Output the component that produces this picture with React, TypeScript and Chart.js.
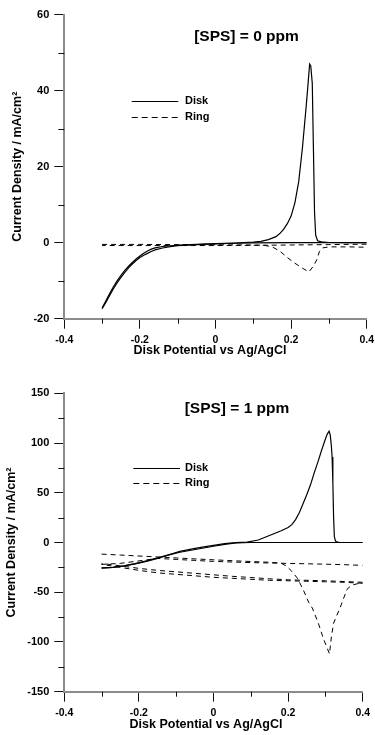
import React, { useEffect, useRef } from "react";
import { Chart, registerables } from "chart.js";

Chart.register(...registerables);

// ================= DATA : [SPS] = 0 ppm =================
const disk0FwdPotential = [-0.3, -0.29, -0.28, -0.27, -0.26, -0.25, -0.24, -0.23, -0.22, -0.21, -0.2, -0.19, -0.18, -0.17, -0.16, -0.14, -0.12, -0.1, -0.05, 0, 0.05, 0.1, 0.12, 0.14, 0.16, 0.17, 0.18, 0.19, 0.2, 0.21, 0.22, 0.23, 0.24, 0.245, 0.249, 0.252, 0.256, 0.259, 0.262, 0.265, 0.27, 0.28, 0.3, 0.35, 0.4];
const disk0FwdCurrent = [-17.2, -15.3, -13.4, -11.6, -10.0, -8.6, -7.3, -6.2, -5.2, -4.3, -3.5, -2.8, -2.2, -1.7, -1.35, -1.0, -0.8, -0.65, -0.45, -0.25, -0.1, 0.15, 0.35, 0.8, 1.6, 2.4, 3.5, 5.0, 7.0, 10.5, 16, 25, 36, 42, 47, 46.5, 42, 25, 8, 2, 0.5, 0.2, 0.05, 0, 0];
const disk0RevPotential = [0.4, 0.3, 0.2, 0.1, 0.05, 0, -0.05, -0.1, -0.12, -0.14, -0.16, -0.17, -0.18, -0.19, -0.2, -0.21, -0.22, -0.23, -0.24, -0.25, -0.26, -0.27, -0.28, -0.29, -0.3];
const disk0RevCurrent = [0, 0, 0, -0.05, -0.15, -0.3, -0.5, -0.8, -1.05, -1.4, -1.9, -2.3, -2.8, -3.3, -3.9, -4.7, -5.6, -6.6, -7.8, -9.1, -10.5, -12.1, -13.9, -15.7, -17.4];
const ring0FwdPotential = [-0.3, -0.2, -0.1, 0, 0.1, 0.13, 0.15, 0.17, 0.19, 0.21, 0.23, 0.247, 0.258, 0.268, 0.275, 0.282, 0.3, 0.35, 0.4];
const ring0FwdCurrent = [-0.45, -0.45, -0.5, -0.55, -0.6, -0.7, -1.1, -2.2, -3.9, -5.4, -6.7, -7.7, -6.3, -4.5, -2.3, -1.4, -1.1, -1.1, -1.2];
const ring0RevPotential = [0.4, 0.3, 0.2, 0.1, 0, -0.1, -0.2, -0.3];
const ring0RevCurrent = [-0.4, -0.5, -0.6, -0.7, -0.75, -0.75, -0.75, -0.75];

// ================= DATA : [SPS] = 1 ppm =================
const disk1FwdPotential = [-0.3, -0.27, -0.24, -0.21, -0.18, -0.15, -0.12, -0.09, -0.06, -0.03, 0, 0.03, 0.06, 0.09, 0.12, 0.14, 0.16, 0.18, 0.2, 0.21, 0.22, 0.23, 0.24, 0.25, 0.26, 0.27, 0.28, 0.29, 0.3, 0.305, 0.31, 0.313, 0.316, 0.318, 0.32, 0.322, 0.324, 0.327, 0.332, 0.34, 0.4];
const disk1FwdCurrent = [-25.8, -25, -23.5, -21.5, -19, -16, -12.5, -9, -6.6, -4.6, -2.8, -1.2, -0.2, 0.3, 2.5, 5.5, 8.5, 11.5, 15, 18, 23, 30, 39, 48, 58, 70, 81, 93, 104, 109, 112, 108, 97, 86, 60, 25, 6, 1.5, 0.3, 0, 0];
const disk1RevPotential = [0.4, 0.3, 0.2, 0.1, 0.06, 0.03, 0, -0.03, -0.06, -0.09, -0.12, -0.15, -0.18, -0.21, -0.24, -0.27, -0.3];
const disk1RevCurrent = [0, 0, 0, 0, -0.3, -1.8, -3.8, -5.8, -7.8, -9.8, -12.5, -15.5, -18.5, -21.2, -23.5, -25, -25.6];
const ring1AFwdPotential = [-0.3, -0.25, -0.2, -0.15, -0.1, -0.05, 0, 0.05, 0.1, 0.15, 0.18, 0.195, 0.21, 0.225, 0.24, 0.255, 0.265, 0.28, 0.295, 0.311, 0.316, 0.322, 0.34, 0.358, 0.37, 0.385, 0.4];
const ring1AFwdCurrent = [-11.7, -12.6, -13.6, -14.5, -15.5, -16.5, -17.4, -18.3, -19.1, -19.9, -20.6, -23.5, -29, -36, -47, -60, -66, -80, -97, -112, -95, -81, -65, -47, -43, -41.5, -41];
const ring1ARevPotential = [0.4, 0.35, 0.3, 0.25, 0.2, 0.15, 0.1, 0.05, 0, -0.05, -0.1, -0.15, -0.2, -0.25, -0.3];
const ring1ARevCurrent = [-41, -40, -39.5, -39, -38.5, -38, -37, -36, -35, -33.5, -32, -30.5, -28, -25, -22];
const ring1BFwdPotential = [-0.3, -0.25, -0.2, -0.15, -0.1, -0.05, 0, 0.05, 0.1, 0.15, 0.2, 0.25, 0.3, 0.35, 0.4];
const ring1BFwdCurrent = [-22, -21, -18.5, -16, -17, -18, -19, -19.6, -20.2, -20.6, -21, -21.4, -21.8, -22.3, -23];
const ring1BRevPotential = [0.4, 0.3, 0.2, 0.15, 0.1, 0.05, 0, -0.05, -0.1, -0.15, -0.2, -0.25, -0.3];
const ring1BRevCurrent = [-40, -38.5, -37.5, -36.5, -35.2, -34, -32.5, -31, -29.5, -28, -26, -23.5, -21];

// ================= TEXT =================
const xAxisTitle = "Disk Potential vs Ag/AgCl";
const yAxisTitle = "Current Density / mA/cm\u00B2";
const legendLabels = ["Disk", "Ring"];
const panelTitles = ["[SPS] = 0 ppm", "[SPS] = 1 ppm"];

const FONT = "'Liberation Sans', Arial, Helvetica, sans-serif";
const CANVAS_W = 400;

function pts(xs: number[], ys: number[]) {
  return xs.map((x, i) => ({ x, y: ys[i] }));
}

function isMajor(v: number, step: number) {
  const r = v / step;
  return Math.abs(r - Math.round(r)) < 1e-6;
}

function fmtX(v: number) {
  if (Math.abs(v) < 1e-9) return "0";
  return v.toFixed(1);
}

const decorPlugin = {
  id: "decor",
  afterDraw(chart: any, _args: any, opts: any) {
    const ctx = chart.ctx;
    const { left, bottom } = chart.chartArea;
    const xs = chart.scales.x;
    const ys = chart.scales.y;
    ctx.save();
    // minor ticks
    ctx.strokeStyle = "#111";
    ctx.lineWidth = 1;
    xs.ticks.forEach((t: any) => {
      if (!isMajor(t.value, opts.xMajor)) {
        const px = Math.round(xs.getPixelForValue(t.value)) + 0.5;
        ctx.beginPath();
        ctx.moveTo(px, bottom);
        ctx.lineTo(px, bottom + 5);
        ctx.stroke();
      }
    });
    ys.ticks.forEach((t: any) => {
      if (!isMajor(t.value, opts.yMajor)) {
        const py = Math.round(ys.getPixelForValue(t.value)) + 0.5;
        ctx.beginPath();
        ctx.moveTo(left, py);
        ctx.lineTo(left - 6, py);
        ctx.stroke();
      }
    });
    ctx.fillStyle = "#000";
    ctx.textAlign = "center";
    ctx.textBaseline = "middle";
    // x axis title
    ctx.font = `bold 12.5px ${FONT}`;
    ctx.fillText(xAxisTitle, opts.xTitleX, opts.xTitleY);
    // panel title
    ctx.font = `bold 15.5px ${FONT}`;
    ctx.fillText(opts.title, opts.titleX, opts.titleY);
    // legend
    ctx.font = `bold 11px ${FONT}`;
    ctx.textAlign = "left";
    const items = [
      { label: legendLabels[0], dash: [] as number[], y: opts.legY },
      { label: legendLabels[1], dash: [6, 4], y: opts.legY + opts.legGap },
    ];
    items.forEach((it) => {
      ctx.setLineDash(it.dash);
      ctx.lineWidth = 1;
      ctx.strokeStyle = "#000";
      ctx.beginPath();
      ctx.moveTo(opts.legX1, Math.round(it.y) + 0.5);
      ctx.lineTo(opts.legX2, Math.round(it.y) + 0.5);
      ctx.stroke();
      ctx.setLineDash([]);
      ctx.fillText(it.label, opts.legTextX, it.y);
    });
    ctx.restore();
  },
};

type Panel = {
  title: string;
  disk: { x: number; y: number }[][];
  ring: { x: number; y: number }[][];
  yMin: number;
  yMax: number;
  yStep: number;
  yMajor: number;
  pad: { left: number; right: number; top: number; bottom: number };
  yWidth: number;
  xHeight: number;
  yTitlePad: number;
  xTitleX: number;
  xTitleY: number;
  titleX: number;
  titleY: number;
  legX1: number;
  legX2: number;
  legTextX: number;
  legY: number;
  legGap: number;
};

const panels: Panel[] = [
  {
    title: panelTitles[0],
    disk: [pts(disk0FwdPotential, disk0FwdCurrent), pts(disk0RevPotential, disk0RevCurrent)],
    ring: [pts(ring0FwdPotential, ring0FwdCurrent), pts(ring0RevPotential, ring0RevCurrent)],
    yMin: -20,
    yMax: 60,
    yStep: 10,
    yMajor: 20,
    pad: { left: 0, right: CANVAS_W - 366.7, top: 14.7, bottom: 0 },
    yWidth: 64.3,
    xHeight: 51.3,
    yTitlePad: 9.7,
    xTitleX: 210,
    xTitleY: 351,
    titleX: 246.5,
    titleY: 36.7,
    legX1: 131.7,
    legX2: 178.3,
    legTextX: 185,
    legY: 100.7,
    legGap: 16,
  },
  {
    title: panelTitles[1],
    disk: [pts(disk1FwdPotential, disk1FwdCurrent), pts(disk1RevPotential, disk1RevCurrent)],
    ring: [
      pts(ring1AFwdPotential, ring1AFwdCurrent),
      pts(ring1ARevPotential, ring1ARevCurrent),
      pts(ring1BFwdPotential, ring1BFwdCurrent),
      pts(ring1BRevPotential, ring1BRevCurrent),
    ],
    yMin: -150,
    yMax: 150,
    yStep: 25,
    yMajor: 50,
    pad: { left: 0, right: CANVAS_W - 362.7, top: 23.3, bottom: 0 },
    yWidth: 64.3,
    xHeight: 43.3,
    yTitlePad: 4.2,
    xTitleX: 206,
    xTitleY: 354.5,
    titleX: 237,
    titleY: 38.3,
    legX1: 133.3,
    legX2: 180,
    legTextX: 185,
    legY: 98.3,
    legGap: 15,
  },
];

function makeConfig(p: Panel): any {
  const datasets: any[] = [];
  p.ring.forEach((d, i) => {
    datasets.push({
      label: legendLabels[1] + " " + (i + 1),
      data: d,
      borderColor: "#000",
      borderWidth: 1,
      borderDash: [5, 4],
      pointRadius: 0,
      fill: false,
      tension: 0,
    });
  });
  p.disk.forEach((d, i) => {
    datasets.push({
      label: legendLabels[0] + " " + (i + 1),
      data: d,
      borderColor: "#000",
      borderWidth: 1.2,
      pointRadius: 0,
      fill: false,
      tension: 0,
    });
  });
  const tickFont = { family: FONT, size: 11, weight: "bold" as const };
  const titleFont = { family: FONT, size: 12.5, weight: "bold" as const };
  return {
    type: "line",
    data: { datasets },
    plugins: [decorPlugin],
    options: {
      animation: false,
      responsive: false,
      devicePixelRatio: 1,
      layout: { padding: p.pad },
      plugins: {
        legend: { display: false },
        title: { display: false },
        tooltip: { enabled: false },
        decor: {
          title: p.title,
          titleX: p.titleX,
          titleY: p.titleY,
          xTitleX: p.xTitleX,
          xTitleY: p.xTitleY,
          legX1: p.legX1,
          legX2: p.legX2,
          legTextX: p.legTextX,
          legY: p.legY,
          legGap: p.legGap,
          xMajor: 0.2,
          yMajor: p.yMajor,
        },
      },
      scales: {
        x: {
          type: "linear",
          min: -0.4,
          max: 0.4,
          border: { display: true, color: "#8c8c8c", width: 2 },
          grid: {
            display: true,
            drawOnChartArea: false,
            drawTicks: true,
            tickLength: 10,
            tickWidth: 1,
            tickColor: (c: any) => (c.tick && isMajor(c.tick.value, 0.2) ? "#111" : "rgba(0,0,0,0)"),
          },
          ticks: {
            stepSize: 0.1,
            autoSkip: false,
            maxRotation: 0,
            padding: 5,
            color: "#000",
            font: { ...tickFont, size: 10.5 },
            callback: (v: number) => (isMajor(v, 0.2) ? fmtX(v) : ""),
          },
          title: { display: false },
          afterFit: (s: any) => {
            s.height = p.xHeight;
          },
        },
        y: {
          type: "linear",
          min: p.yMin,
          max: p.yMax,
          border: { display: true, color: "#8c8c8c", width: 2 },
          grid: {
            display: true,
            drawOnChartArea: false,
            drawTicks: true,
            tickLength: 10,
            tickWidth: 1,
            tickColor: (c: any) => (c.tick && isMajor(c.tick.value, p.yMajor) ? "#111" : "rgba(0,0,0,0)"),
          },
          ticks: {
            stepSize: p.yStep,
            autoSkip: false,
            padding: 5,
            color: "#000",
            font: tickFont,
            callback: (v: number) => (isMajor(v, p.yMajor) ? String(Math.round(v)) : ""),
          },
          title: {
            display: true,
            text: yAxisTitle,
            color: "#000",
            font: titleFont,
            padding: { top: p.yTitlePad, bottom: 0 },
          },
          afterFit: (s: any) => {
            s.width = p.yWidth;
          },
        },
      },
    },
  };
}

export default function App() {
  const ref1 = useRef<HTMLCanvasElement>(null);
  const ref2 = useRef<HTMLCanvasElement>(null);
  useEffect(() => {
    const c1 = new Chart(ref1.current as HTMLCanvasElement, makeConfig(panels[0]));
    const c2 = new Chart(ref2.current as HTMLCanvasElement, makeConfig(panels[1]));
    return () => {
      c1.destroy();
      c2.destroy();
    };
  }, []);
  return (
    <div
      style={{
        position: "absolute",
        left: 0,
        top: 0,
        width: 375,
        height: 735,
        background: "#fff",
        overflow: "hidden",
      }}
    >
      <canvas
        ref={ref1}
        width={CANVAS_W}
        height={370}
        style={{ position: "absolute", left: 0, top: 0, width: CANVAS_W, height: 370, display: "block" }}
      />
      <canvas
        ref={ref2}
        width={CANVAS_W}
        height={365}
        style={{ position: "absolute", left: 0, top: 370, width: CANVAS_W, height: 365, display: "block" }}
      />
    </div>
  );
}
